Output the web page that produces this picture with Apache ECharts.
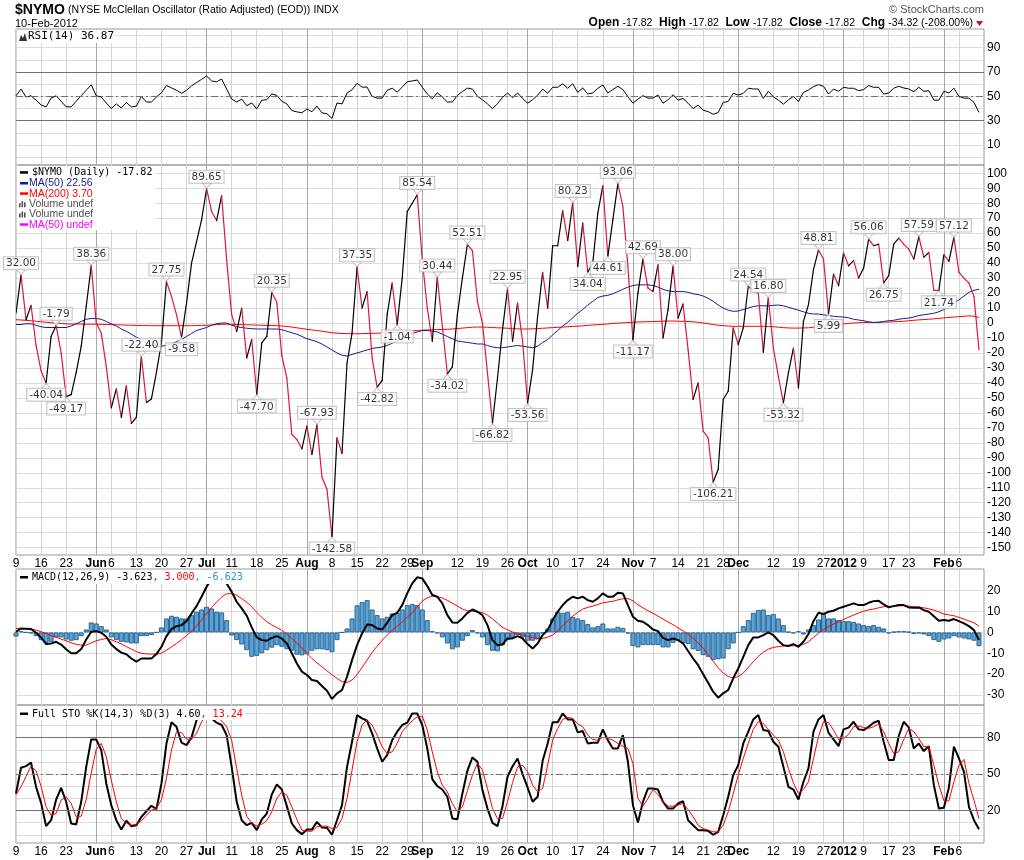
<!DOCTYPE html>
<html>
<head>
<meta charset="utf-8">
<title>$NYMO</title>
<script src="https://cdn.jsdelivr.net/npm/echarts@6/dist/echarts.min.js"></script>
<style>
html, body { margin: 0; padding: 0; background: #fff; }
#chart { width: 1024px; height: 860px; }
</style>
</head>
<body>
<div id="chart"></div>
<script>
// x axis: trading day index -> tick label (May 9 2011 .. Feb 10 2012)
var tickIdx = [0, 5, 10, 16, 19, 24, 29, 34, 38, 43, 48, 53, 58, 63, 68, 73, 78, 81, 88, 93, 98, 102, 107, 112, 117, 123, 127, 132, 137, 141, 144, 151, 156, 161, 165, 169, 174, 178, 185, 188];
var tickText = ['9', '16', '23', 'Jun', '6', '13', '20', '27', 'Jul', '11', '18', '25', 'Aug', '8', '15', '22', '29', 'Sep', '12', '19', '26', 'Oct', '10', '17', '24', 'Nov', '7', '14', '21', '28', 'Dec', '12', '19', '27', '2012', '9', '17', '23', 'Feb', '6'];
var monthIdx = [16, 38, 58, 81, 102, 123, 144, 165, 185];

// $NYMO daily close
var nymo = [6.7, 32.00, 2.2, 11.8, -15, -32, -40.04, -8.9, -1.79, -20,
  -49.17, -47.8, -33, -15.6, 11, 38.36, 0, -6.7, -29, -56.7,
  -44, -63, -42, -67, -63, -22.40, -53, -50.7, -33, -13,
  27.75, 17.8, 5.6, -9.58, 13.3, 40, 54.4, 68.9, 89.65, 74.4,
  68.4, 85, 42, 5.6, -5.6, 10, -23.3, -11, -47.70, -13.3,
  -8.9, 20.35, 13.8, -22, -36.7, -74.4, -77.8, -84, -68.9, -87.8,
  -67.93, -103, -111, -142.58, -76.7, -87, -26.7, -6.7, 37.35, 10,
  21, -23.3, -42.82, -38.4, 5.6, 26.7, -1.04, 30, 74.4, 80,
  85.54, 42.2, 10, -12.2, 30.44, -2.2, -34.02, -29.3, 5.6, 30,
  52.51, 48.4, 14.4, 0, -33.3, -66.82, -36.7, -4.4, 22.95, -12.2,
  13.3, -12.2, -53.56, -31.1, 4.4, 33.8, 10, 51.6, 51.6, 75.1,
  55.1, 80.23, 37.8, 66.7, 34.04, 40, 73.3, 91.6, 44.61, 68.9,
  93.06, 77.8, 37.8, -11.17, 20, 42.69, 23.3, 21.1, 38.9, -10,
  8.9, 38.00, 3.3, 12.7, -17.8, -51, -40, -72.2, -76.7, -106.21,
  -97.8, -51.1, -45.6, -3.3, -14.4, -3.3, 24.54, 21.1, 20, -19.6,
  16.80, -16.7, -35.6, -53.32, -33.3, -16.7, -43.3, 1.1, 12.2, 35.6,
  48.81, 42.7, 5.99, 32.7, 24.9, 46.7, 38.2, 41.8, 30, 36.7,
  56.06, 51.6, 52.7, 26.75, 31.6, 52.7, 56.7, 52.7, 49.3, 42.7,
  57.59, 44, 47.1, 21.8, 21.74, 45.6, 41.1, 57.12, 33.8, 30,
  26.7, 17.8, -17.82];

var ma50 = [-1, -1, -0.5, -0.5, -1.5, -2.5, -3, -3, -3, -3,
  -3, -2, -0.5, 1, 2.5, 3, 3, 2.5, 1, -0.5,
  -2, -4, -5.5, -7.5, -9.5, -11, -13, -14.5, -15.5, -15.5,
  -15, -14, -12.5, -11, -9, -7, -5, -4, -3, -1.5,
  -0.5, 0, 0, -1.5, -2.5, -3, -3.5, -3.8, -4, -4,
  -4, -4, -4, -4.5, -5.5, -6.5, -7.5, -9, -10.5, -11.5,
  -12.5, -14, -16, -18, -20, -21.5, -22, -21, -20, -19,
  -18, -17, -16.5, -16, -15, -13.5, -12, -10, -8, -7,
  -6, -5, -5, -5.5, -6, -7.5, -9, -10.5, -12, -12.5,
  -13, -13.5, -14, -14, -15, -16, -16.5, -16.5, -16, -15.5,
  -15, -15.5, -16, -16.5, -15.5, -13, -11, -8, -5, -2,
  0.5, 3.5, 6.5, 9, 12, 14.5, 17, 18, 18.5, 19.5,
  21, 22.5, 24, 25, 25.5, 25.5, 25.5, 25, 24, 22.5,
  21.5, 21, 21, 21, 20.5, 19.5, 19, 18, 16.5, 14.5,
  12, 10, 8.5, 7.8, 8, 9, 10, 11, 11.5, 11.5,
  11.5, 11.8, 12, 11.5, 10.5, 9.5, 8.5, 7.5, 6.5, 6,
  6, 5.5, 5, 4.5, 4.2, 4, 3.5, 2.5, 2, 1.5,
  0.8, 0.3, 0.5, 1, 1.5, 1.8, 2.5, 3, 3.3, 4,
  5, 5.5, 6, 6.5, 7.5, 9, 11, 13, 15.5, 18,
  20.5, 21.8, 22.56];

var ma200 = [2.2, 2, 1.8, 1.5, 1.2, 0.8, 0.5, 0.2, 0, -0.3,
  -0.6, -0.7, -0.7, -0.7, -0.8, -0.8, -0.8, -0.9, -1, -1.1,
  -1.2, -1.3, -1.4, -1.5, -1.6, -1.7, -1.7, -1.8, -1.8, -1.8,
  -1.8, -1.8, -1.8, -1.8, -1.8, -1.8, -1.7, -1.6, -1.5, -1.3,
  -1.1, -0.9, -0.8, -0.9, -1, -1.1, -1.2, -1.3, -1.4, -1.5,
  -1.6, -1.7, -1.8, -2, -2.3, -2.7, -3.2, -3.7, -4.2, -4.6,
  -5, -5.5, -6, -6.5, -6.8, -7, -7.1, -7.2, -7.2, -7.1,
  -7, -6.9, -6.8, -6.7, -6.5, -6.3, -6.1, -5.8, -5.5, -5.2,
  -5, -4.8, -4.6, -4.5, -4.4, -4.3, -4.2, -4, -3.7, -3.4,
  -3.1, -2.8, -2.7, -2.7, -2.8, -3, -3.2, -3.3, -3.5, -3.7,
  -3.9, -4, -4, -3.9, -3.7, -3.5, -3.3, -3.1, -2.9, -2.7,
  -2.5, -2.3, -2.1, -1.9, -1.6, -1.3, -1.1, -0.9, -0.6, -0.3,
  -0.1, 0.1, 0.3, 0.5, 0.7, 0.8, 0.9, 1, 1.1, 1.2,
  1.3, 1.3, 1.2, 1.1, 1, 0.8, 0.5, 0, -0.5, -1,
  -1.5, -1.8, -2, -2.2, -2.2, -2.2, -2.2, -2.2, -2.2, -2.2,
  -2.3, -2.5, -2.8, -3.1, -3.3, -3.4, -3.4, -3.3, -3.2, -2.8,
  -2.3, -1.9, -1.6, -1.2, -0.9, -0.6, -0.3, 0, 0.2, 0.3,
  0.4, 0.4, 0.5, 0.6, 0.7, 0.8, 1, 1.2, 1.5, 1.8,
  2.1, 2.3, 2.5, 2.8, 3.1, 3.4, 3.7, 4, 4.2, 4.5,
  4.8, 4.5, 3.7];

var rsi = [50.5, 56, 49.5, 50.5, 47, 43, 41.4, 48.6, 50.5, 46,
  41.4, 41.4, 46, 50.5, 55, 59.5, 50.5, 49.5, 44.6, 40,
  43.8, 40.5, 45, 41.4, 42, 50, 45.4, 45.4, 49.5, 53,
  59, 57, 55, 52.5, 55, 58.6, 61.4, 64, 66.8, 62.7,
  62, 64.3, 56, 47.8, 45.4, 47.8, 42.4, 44.6, 39.7, 46.8,
  47.3, 52, 50.8, 46, 43.8, 38.4, 37.3, 36.5, 39.7, 37.3,
  42, 36.5, 35.7, 31.9, 44.6, 43.8, 52.7, 55.4, 60.8, 57.6,
  57.6, 50, 48.6, 48.6, 55, 56.8, 53.5, 57.6, 62, 62.7,
  63.5, 57.6, 52, 48, 53, 49.5, 45.4, 45.4, 50.8, 54,
  56.8, 56, 50, 47.3, 43.8, 40, 44, 49.2, 52.7, 49,
  52.8, 48.3, 44.4, 47.2, 51, 56, 52.5, 57.5, 57.5, 60.3,
  56.7, 60.3, 53.3, 57, 52, 52.8, 56.7, 59.4, 52.8, 55.6,
  58.3, 55.6, 49.7, 44.4, 47.8, 50.6, 48.6, 48.6, 51.1, 44.4,
  47.2, 51.4, 46.9, 48.3, 44.4, 40, 42.8, 38.6, 37.5, 35.3,
  36.7, 45, 45.8, 52.5, 51.1, 52.5, 56.7, 56.1, 56.1, 48.3,
  54.2, 49.7, 46.9, 43.6, 47.2, 50, 45.8, 53.3, 55.3, 58,
  59.7, 58.3, 51.9, 56.1, 54.2, 57.5, 56.7, 56.7, 54.7, 55.6,
  58.9, 57.5, 57.5, 51.9, 52.8, 56.7, 58.3, 56.9, 56.1, 53.9,
  57.5, 54.2, 54.7, 46.9, 46.9, 54.2, 52.8, 56.7, 50, 48.6,
  48.6, 45, 36.87];

var macd = [0.3, 1.9, 1.8, 1.6, -0.2, -2.4, -5.6, -5.3, -4.5, -5.8,
  -8.1, -10, -10, -8, -3.4, 0.3, 0.6, -0.2, -2.1, -5.8,
  -8, -9.7, -10.5, -12.5, -14, -12.5, -12.5, -12.5, -10.4, -6.9,
  -1.8, 1.6, 3, 3.5, 5.4, 9.1, 12.6, 17.1, 21.9, 25.5,
  27, 26.5, 23.5, 19.5, 14.7, 11.5, 8, 2.4, -2.4, -3.7,
  -4, -2.6, -1.8, -2.9, -5.3, -10, -14.9, -18.8, -20.4, -22.8,
  -23.3, -25.7, -28, -31.9, -29.2, -27.6, -21.2, -13.3, -6.1, -0.5,
  3.8, 3.5, 1.9, 1.4, 4.6, 8.3, 9.4, 13.1, 18.7, 23.5,
  26.4, 25.9, 22.2, 17.9, 17.1, 13.9, 8.3, 4.8, 4.6, 6.7,
  9.4, 11, 9.9, 8.3, 3.5, -3.7, -6.1, -5.8, -2.9, -2.9,
  -1.8, -2.9, -5.6, -7.7, -5.3, -1.3, 1.1, 5.9, 9.9, 13.1,
  15.5, 17.1, 16.3, 17.1, 15.5, 14.7, 16.3, 18.7, 17.1, 17.1,
  19, 18.7, 13.1, 7.5, 5.6, 5.1, 3.5, 1.4, 0.6, -2.6,
  -3.7, -2.9, -3.7, -5.3, -8.9, -12.5, -15.7, -20, -24.1, -28.4,
  -31.3, -29.2, -27.6, -22, -17.3, -11.7, -6.1, -2.4, -2.4, -1.3,
  0, -1.3, -4, -6.1, -6.5, -5.6, -6.9, -4.5, -0.8, 5.4,
  9.4, 8.8, 9.9, 10.4, 11.5, 12.3, 13.1, 13.9, 13.1, 13.1,
  14.2, 15, 15.2, 13.4, 12, 12.6, 13.1, 13.1, 12, 11.8,
  12, 10.7, 9.9, 7.8, 5.6, 5.9, 5.6, 6.4, 5.4, 4.3,
  3, 1.1, -3.623];

var signal = [1.9, 1.9, 1.8, 1.6, 1.1, 0.3, -0.5, -1.5, -2.3, -3.2,
  -4, -5, -5.7, -6.1, -6.1, -5, -4, -3.4, -2.9, -3.5,
  -4.5, -5.5, -6.8, -8, -9.2, -10, -10.3, -10.4, -10.4, -10,
  -8.5, -7, -5.3, -3.5, -1.5, 0.6, 3, 6, 9, 12,
  14.5, 17, 18.5, 18.6, 17.8, 16.2, 14.5, 12.3, 9.6, 7.2,
  5.1, 3.6, 2.3, 1, -0.8, -3, -5.2, -7.5, -10, -12.5,
  -14.6, -16.5, -18.4, -20.3, -22, -23.6, -24, -22.8, -20.2, -16.8,
  -13.2, -9.6, -6.6, -3.8, -1.3, 1, 3, 5, 7.3, 9.5,
  12.2, 15, 16.6, 17.4, 17.2, 16.5, 15.4, 14, 12.6, 11.2,
  10.4, 10.2, 9.9, 9.5, 8.3, 6.5, 4.4, 2.5, 1.2, 0.2,
  -0.6, -1.3, -1.8, -2.4, -2.8, -2.9, -2.3, -1.3, 0.8, 3.2,
  5.6, 7.8, 9.6, 11.2, 12, 12.6, 13.4, 14.2, 14.6, 14.9,
  15.6, 16.1, 16.2, 15.2, 13.2, 11.8, 10.4, 9.2, 7.8, 6.4,
  5, 3.7, 2.2, 0.8, -0.9, -2.8, -5, -7.6, -10.6, -13.8,
  -17, -19.5, -21.2, -21.8, -21.2, -19.5, -16.8, -14, -11.5, -9.5,
  -8, -7.2, -6.8, -6.5, -6.4, -6.4, -6.2, -5.8, -4.5, -2.4,
  -0.4, 1.4, 2.8, 4, 5.2, 6.2, 7.3, 8.3, 9.3, 10.2,
  10.8, 11.2, 11.8, 12.3, 12.5, 12.6, 12.7, 12.8, 12.6, 12.3,
  12.1, 11.8, 11.3, 10.7, 9.8, 8.8, 8.4, 8, 7.2, 6.4,
  5.5, 4.6, 3.0];

var hist = [-2, 0.6, 0, -0.5, -1.8, -3.7, -5, -4.5, -2.4, -2.4,
  -3.4, -4, -3.7, -1.8, 1.4, 4.8, 4.3, 3, 1.4, -2.4,
  -3.7, -4.5, -4.8, -5.3, -5.3, -1.8, -1.8, -1.3, 0, 2.4,
  6.7, 8, 7.5, 6.7, 6.7, 8.3, 9.9, 11, 12.3, 11.5,
  9.9, 9.6, 5.9, -1.5, -3.7, -5.8, -8.5, -11.7, -11.3, -10,
  -8.5, -7.3, -6.1, -6.9, -8.1, -8.8, -10.7, -11, -10.5, -8.8,
  -8.1, -8.1, -8.5, -9.5, -3.7, 0, 1.9, 6.7, 13, 14.5,
  15.5, 11, 8.3, 6.7, 7.5, 9.1, 9.4, 11, 13.1, 13.6,
  13.1, 11, 5.9, 0.6, -0.5, -2.4, -5.3, -8.1, -7.2, -4,
  -1.8, 1.1, -0.5, -2.4, -6.1, -8.8, -9.1, -6.1, -3.7, -2.5,
  -1.3, -2.4, -4, -4, -3.4, -0.5, 1.9, 6.7, 9.9, 9.4,
  9.9, 7.5, 6.7, 5.9, 4, 2.4, 3, 4.3, 1.9, 1.9,
  2.7, 2.2, -0.5, -6.5, -7.2, -6.1, -6.1, -6.1, -6.1, -7.2,
  -7.2, -5, -3.7, -5.3, -5.6, -8.1, -8.9, -10.9, -11.7, -13.3,
  -12.9, -12.5, -8.1, -5.3, 0, 3, 5.9, 9.4, 10.7, 11,
  8.3, 8.8, 6.7, 3.5, 0.3, -0.5, 0.6, -1, 1.4, 3.5,
  6.2, 8.8, 6.7, 6.7, 5.9, 5.4, 5.4, 5.1, 4.3, 3.5,
  3, 3.5, 2.7, 1.9, -0.5, 0.3, 0.6, 0.6, 0.3, -0.8,
  -0.5, -1, -1.8, -3.7, -4.5, -3.4, -2.9, -1.8, -2.4, -2.9,
  -3.4, -4, -6.623];

var stoK = [34, 55.2, 56.6, 59.6, 39.5, 26.3, 7.1, 12, 29, 38.7,
  27.2, 9.3, 8.4, 27.2, 56, 78.6, 78.6, 69.8, 42.3, 24.4,
  12, 4.3, 11.5, 7.1, 7.9, 14.8, 19.4, 23.9, 21.1, 42.3,
  75.3, 92.7, 89, 75.9, 73.9, 80.3, 94.6, 98, 99, 96,
  92.4, 90.5, 82.2, 56, 27.2, 12, 7.9, 9.8, 3.8, 12.6,
  17.5, 33.2, 41.5, 37.3, 23.6, 9.3, 3.8, 0.5, 4.3, 4.3,
  10.6, 6, 5.7, 0, 12, 24.4, 56, 76.7, 98.7, 96,
  94, 83.6, 71.2, 60.2, 65.7, 78, 85, 90.5, 92.4, 100,
  100, 90.5, 71.2, 45.9, 40.1, 37.3, 31.3, 13.4, 12.8, 34,
  52.8, 63.8, 60.2, 36.8, 21.6, 9.8, 7.1, 23.6, 47.8, 56.5,
  62.9, 50, 39, 27.2, 31.3, 61, 75.3, 92.7, 92.7, 100,
  95.1, 95.1, 84.4, 85.5, 75.3, 75.9, 75.9, 86.9, 78, 71.2,
  71.2, 82.2, 60.2, 24.4, 10.1, 27.2, 38.2, 38.2, 37.3, 27.2,
  21.6, 21.6, 25.8, 27.7, 12, 7.9, 3.8, 3.8, 3.2, 0,
  2.4, 16.1, 31.3, 49.2, 57.4, 75.3, 85, 95.1, 98.7, 86.3,
  85.5, 76.7, 72.6, 56, 39.5, 37.3, 29, 43.7, 54.7, 85,
  95.1, 98.7, 84.1, 78.6, 73.1, 86.9, 88.3, 93.2, 86.9, 86.3,
  89.1, 92.4, 94, 76.7, 61.6, 61.6, 81.4, 93.2, 88.5, 71.2,
  75.3, 69, 73.1, 40.9, 21.6, 22.2, 39, 72.6, 62.9, 51.9,
  23, 12, 4.60];

var stoD = [33, 39.5, 48, 56.6, 52.8, 40, 23, 16, 17.5, 28.5,
  31.3, 25.8, 14.8, 15.3, 29, 51, 70.4, 75.3, 64.3, 45,
  27.2, 13.4, 9.8, 7.9, 8.7, 11.5, 16.1, 20.3, 21.6, 29,
  46.4, 69.8, 85, 84.1, 78.9, 78.6, 83.6, 93.2, 98.7, 98,
  97.3, 94, 89.1, 78, 54.7, 32.7, 15.3, 9.8, 7.1, 8.7,
  11.5, 18.9, 29.9, 35.4, 32.7, 23, 12.6, 3.8, 2.9, 2.9,
  6.5, 7.1, 7.1, 5.1, 6, 13.4, 29.9, 53.3, 76.7, 90.5,
  94.6, 90.5, 82.2, 72.6, 67, 68.4, 75.3, 85, 89.6, 94,
  97.3, 97.9, 86.3, 68.4, 51.9, 40.9, 35.4, 25.8, 18.9, 23,
  36.2, 49.2, 58.8, 53.3, 38.2, 21.6, 13.4, 13.4, 27.2, 43,
  56, 57.4, 52, 40.9, 35.4, 38.2, 57.4, 78, 87.7, 95.1,
  96.8, 96, 91.3, 89.1, 82.2, 78.6, 78, 80.3, 79.5, 78,
  75.3, 73.1, 71.2, 58.8, 29.9, 23.6, 29.9, 37.3, 33.2, 27.2,
  23.6, 23.6, 24.4, 25.8, 20.8, 14.8, 7.9, 5.1, 3.8, 2.4,
  2.4, 7.9, 18.9, 34, 49.2, 62.9, 75.3, 86.9, 93.2, 91.8,
  86.9, 82.2, 78, 68.4, 54.7, 42.8, 34, 37.3, 43.7, 62.9,
  80.8, 93.2, 92.4, 86.3, 78.6, 79.5, 82.8, 89.1, 89.6, 88.5,
  87.7, 89.1, 91.3, 85, 75.3, 67, 68.4, 78.6, 87.7, 85,
  79.5, 72.6, 72.6, 57.4, 40.9, 28, 28, 43.7, 57.4, 62.1,
  42.3, 28.5, 13.24];

// annotated swing points (index into nymo)
var peakTop = [1, 8, 15, 25, 30, 38, 51, 60, 68, 80, 84, 90, 98, 111, 120, 125, 131, 146, 150, 160, 170, 180, 187];
var peakBottom = [6, 10, 33, 48, 63, 72, 76, 86, 95, 102, 114, 118, 123, 139, 153, 162, 173, 184];

var chart = echarts.init(document.getElementById('chart'));

var N = nymo.length;
var cats = [];
for (var i = 0; i <= N; i++) cats.push(String(i));
var tickMap = {};
for (var i = 0; i < tickIdx.length; i++) tickMap[tickIdx[i]] = tickText[i];
var isMonth = {};
monthIdx.forEach(function (m) { isMonth[m] = true; });

function range(a, b, s) {
  var r = [];
  for (var v = a; v <= b; v += s) r.push(v);
  return r;
}

var LINE_LIGHT = '#dcdcdc';
var LINE_DARK = '#707070';
var FONT = 'Liberation Sans, Arial, sans-serif';
var MONO = 'DejaVu Sans Mono, monospace';

function weekAxis(g, showLabel) {
  return {
    type: 'category', gridIndex: g, data: cats, boundaryGap: false, position: 'bottom',
    axisLine: { show: false }, axisTick: { show: false },
    axisLabel: {
      show: showLabel, margin: 3, color: '#000', fontSize: 12, fontFamily: FONT,
      interval: function (i) { return tickMap[i] !== undefined; },
      formatter: function (v, i) {
        var t = tickMap[i];
        if (t === undefined) return '';
        return isMonth[i] ? '{m|' + t + '}' : t;
      },
      rich: { m: { fontWeight: 'bold', fontSize: 12, fontFamily: FONT, color: '#000' } }
    },
    splitLine: {
      show: true,
      interval: function (i) { return tickMap[i] !== undefined && !isMonth[i]; },
      lineStyle: { color: '#d4d4d4', width: 1 }
    }
  };
}

function monthAxis(g) {
  return {
    type: 'category', gridIndex: g, data: cats, boundaryGap: false, position: 'top',
    axisLine: { show: false }, axisTick: { show: false }, axisLabel: { show: false },
    splitLine: {
      show: true,
      interval: function (i) { return !!isMonth[i]; },
      lineStyle: { color: '#a8a8a8', width: 1 }
    }
  };
}

function valAxis(g, min, max, labels, lines) {
  return {
    type: 'value', gridIndex: g, position: 'right', min: min, max: max,
    axisLine: { show: false },
    axisTick: { show: false, customValues: lines },
    axisLabel: { customValues: labels, color: '#000', fontSize: 12, fontFamily: FONT, margin: 3 },
    splitLine: { show: true, lineStyle: { color: LINE_LIGHT, width: 1 } }
  };
}

function levelLines(vals, mid) {
  var d = vals.map(function (v) {
    return { yAxis: v, lineStyle: { color: LINE_DARK, type: 'solid', width: 1 } };
  });
  d.push({ yAxis: mid, lineStyle: { color: LINE_DARK, type: [7, 3, 2, 3], width: 1 } });
  return { silent: true, symbol: 'none', label: { show: false }, animation: false, data: d };
}

var nymoSeg = nymo.map(function (v, i) { return [i, v, i > 0 ? nymo[i - 1] : v]; });

var boxLabel = {
  show: true, distance: 0, color: '#000', fontSize: 10.5, fontFamily: 'DejaVu Sans, sans-serif',
  backgroundColor: '#fff', borderColor: '#b8b8b8', borderWidth: 1, padding: [1, 2, 0, 2],
  formatter: function (p) { return p.value[1].toFixed(2); }
};

var gridBase = { left: 16, right: 40, show: true, borderColor: '#9a9a9a', borderWidth: 1, backgroundColor: 'transparent' };
function gridAt(top, height) {
  return Object.assign({}, gridBase, { top: top, height: height });
}

var legendRows = [
  { y: 172.7, color: '#000', text: '$NYMO (Daily) -17.82', mono: true, icon: 'line' },
  { y: 183.5, color: '#1a1a8a', text: 'MA(50) 22.56', icon: 'line' },
  { y: 193.8, color: '#ff0000', text: 'MA(200) 3.70', icon: 'line' },
  { y: 204.2, color: '#505050', text: 'Volume undef', icon: 'bar' },
  { y: 214.5, color: '#505050', text: 'Volume undef', icon: 'bar' },
  { y: 224.8, color: '#ff00ff', text: 'MA(50) undef', icon: 'line' }
];

var graphics = [
  {
    type: 'text', x: 15, y: 10, z: 100,
    style: {
      text: '{a|$NYMO} {b|(NYSE McClellan Oscillator (Ratio Adjusted) (EOD))} {c|INDX}',
      textVerticalAlign: 'middle',
      rich: {
        a: { font: 'bold 14px ' + FONT, fill: '#000' },
        b: { font: '10.5px ' + FONT, fill: '#000' },
        c: { font: '10.5px ' + FONT, fill: '#000' }
      }
    }
  },
  { type: 'text', x: 15, y: 24, z: 100, style: { text: '10-Feb-2012', font: '11px ' + FONT, fill: '#000', textVerticalAlign: 'middle' } },
  { type: 'text', x: 984, y: 10, z: 100, style: { text: '\u00a9 StockCharts.com', font: '11px ' + FONT, fill: '#555', textAlign: 'right', textVerticalAlign: 'middle' } },
  {
    type: 'text', x: 973, y: 23, z: 100,
    style: {
      text: '{l|Open} {v|-17.82}  {l|High} {v|-17.82}  {l|Low} {v|-17.82}  {l|Close} {v|-17.82}  {l|Chg} {v|-34.32 (-208.00%)}',
      textAlign: 'right', textVerticalAlign: 'middle',
      rich: {
        l: { font: 'bold 12px ' + FONT, fill: '#000' },
        v: { font: '10.5px ' + FONT, fill: '#000' }
      }
    }
  },
  { type: 'polygon', z: 100, shape: { points: [[976, 21], [983, 21], [979.5, 26]] }, style: { fill: '#c8102e' } },
  // RSI legend
  { type: 'rect', z: 99, shape: { x: 17, y: 30, width: 98, height: 13 }, style: { fill: '#fff' } },
  { type: 'polygon', z: 100, shape: { points: [[19, 41], [21, 35], [23, 38], [25, 33], [27, 41]] }, style: { fill: '#333' } },
  { type: 'text', x: 28, y: 36.5, z: 100, style: { text: 'RSI(14) 36.87', font: '11px ' + MONO, fill: '#000', textVerticalAlign: 'middle' } },
  // price legend background
  { type: 'rect', z: 99, shape: { x: 17, y: 166, width: 138, height: 64 }, style: { fill: '#fff' } },
  // MACD legend
  { type: 'rect', z: 99, shape: { x: 17, y: 570, width: 228, height: 14 }, style: { fill: '#fff' } },
  { type: 'rect', z: 100, shape: { x: 20, y: 576, width: 8, height: 2.5 }, style: { fill: '#000' } },
  {
    type: 'text', x: 32, y: 577.5, z: 100,
    style: {
      text: '{k|MACD(12,26,9) -3.623}{r|, 3.000}{b|, -6.623}', textVerticalAlign: 'middle',
      rich: {
        k: { font: '10px ' + MONO, fill: '#000' },
        r: { font: '10px ' + MONO, fill: '#ff0000' },
        b: { font: '10px ' + MONO, fill: '#2b8fd0' }
      }
    }
  },
  // STO legend
  { type: 'rect', z: 99, shape: { x: 17, y: 706, width: 228, height: 14 }, style: { fill: '#fff' } },
  { type: 'rect', z: 100, shape: { x: 20, y: 712.5, width: 8, height: 2.5 }, style: { fill: '#000' } },
  {
    type: 'text', x: 32, y: 714, z: 100,
    style: {
      text: '{k|Full STO %K(14,3) %D(3) 4.60}{r|, 13.24}', textVerticalAlign: 'middle',
      rich: {
        k: { font: '10px ' + MONO, fill: '#000' },
        r: { font: '10px ' + MONO, fill: '#ff0000' }
      }
    }
  }
];

legendRows.forEach(function (r) {
  if (r.icon === 'line') {
    graphics.push({ type: 'rect', z: 100, shape: { x: 20, y: r.y - 1.5, width: 8, height: 2.5 }, style: { fill: r.color } });
  } else {
    [[19, 4], [21.5, 6], [24, 5]].forEach(function (b) {
      graphics.push({ type: 'rect', z: 100, shape: { x: b[0], y: r.y + 3 - b[1], width: 1.6, height: b[1] }, style: { fill: '#505050' } });
    });
  }
  graphics.push({
    type: 'text', x: r.mono ? 32 : 29, y: r.y, z: 100,
    style: { text: r.text, font: r.mono ? '10px ' + MONO : '10.5px ' + FONT, fill: r.color, textVerticalAlign: 'middle' }
  });
});

var option = {
  animation: false,
  backgroundColor: '#fff',
  grid: [gridAt(29, 136), gridAt(165, 390), gridAt(569, 136), gridAt(705, 138)],
  xAxis: [
    weekAxis(0, false), monthAxis(0),
    weekAxis(1, true), monthAxis(1),
    weekAxis(2, false), monthAxis(2),
    weekAxis(3, true), monthAxis(3)
  ],
  yAxis: [
    valAxis(0, -6.4, 105.4, [10, 30, 50, 70, 90], range(0, 100, 10)),
    valAxis(1, -154.9, 105.5, range(-150, 100, 10), range(-150, 100, 10)),
    valAxis(2, -34.8, 30.4, range(-30, 20, 10), range(-30, 20, 10)),
    valAxis(3, -6.8, 107, [20, 50, 80], range(0, 100, 10))
  ],
  series: [
    {
      name: 'RSI(14)', type: 'line', xAxisIndex: 0, yAxisIndex: 0, data: rsi,
      symbol: 'none', lineStyle: { color: '#000', width: 1 }, z: 3,
      markLine: levelLines([70, 30], 50)
    },
    {
      name: 'MA(200)', type: 'line', xAxisIndex: 2, yAxisIndex: 1, data: ma200,
      symbol: 'none', lineStyle: { color: '#ff0000', width: 1 }, z: 2
    },
    {
      name: 'MA(50)', type: 'line', xAxisIndex: 2, yAxisIndex: 1, data: ma50,
      symbol: 'none', lineStyle: { color: '#1a1a8a', width: 1 }, z: 2
    },
    {
      name: '$NYMO', type: 'custom', xAxisIndex: 2, yAxisIndex: 1, data: nymoSeg,
      encode: { x: 0, y: 1 }, clip: true, z: 3,
      renderItem: function (params, api) {
        var i = api.value(0);
        if (i === 0) return null;
        var p0 = api.coord([i - 1, api.value(2)]);
        var p1 = api.coord([i, api.value(1)]);
        return {
          type: 'line',
          shape: { x1: p0[0], y1: p0[1], x2: p1[0], y2: p1[1] },
          style: { stroke: api.value(1) >= api.value(2) ? '#000' : '#e0163c', lineWidth: 1.2, lineCap: 'round' }
        };
      }
    },
    {
      type: 'scatter', xAxisIndex: 2, yAxisIndex: 1, silent: true, z: 5,
      data: peakTop.map(function (i) { return [i, nymo[i]]; }),
      symbol: 'triangle', symbolSize: [9, 5], symbolRotate: 180, symbolOffset: [0, -3],
      itemStyle: { color: '#fff', borderColor: '#b8b8b8', borderWidth: 1 },
      label: Object.assign({ position: 'top' }, boxLabel)
    },
    {
      type: 'scatter', xAxisIndex: 2, yAxisIndex: 1, silent: true, z: 5,
      data: peakBottom.map(function (i) { return [i, nymo[i]]; }),
      symbol: 'triangle', symbolSize: [9, 5], symbolOffset: [0, 3],
      itemStyle: { color: '#fff', borderColor: '#b8b8b8', borderWidth: 1 },
      label: Object.assign({ position: 'bottom' }, boxLabel)
    },
    {
      name: 'Histogram', type: 'bar', xAxisIndex: 4, yAxisIndex: 2, data: hist,
      barWidth: 5, itemStyle: { color: '#5aa3d6', borderColor: '#2e6593', borderWidth: 1 }, z: 2
    },
    {
      name: 'Signal', type: 'line', xAxisIndex: 4, yAxisIndex: 2, data: signal,
      symbol: 'none', lineStyle: { color: '#ff0000', width: 1 }, z: 3
    },
    {
      name: 'MACD', type: 'line', xAxisIndex: 4, yAxisIndex: 2, data: macd,
      symbol: 'none', lineStyle: { color: '#000', width: 2 }, z: 4
    },
    {
      name: '%K', type: 'line', xAxisIndex: 6, yAxisIndex: 3, data: stoK,
      symbol: 'none', lineStyle: { color: '#000', width: 2 }, z: 3,
      markLine: levelLines([80, 20], 50)
    },
    {
      name: '%D', type: 'line', xAxisIndex: 6, yAxisIndex: 3, data: stoD,
      symbol: 'none', lineStyle: { color: '#ff0000', width: 1 }, z: 4
    }
  ],
  graphic: graphics
};

chart.setOption(option);
</script>
</body>
</html>
